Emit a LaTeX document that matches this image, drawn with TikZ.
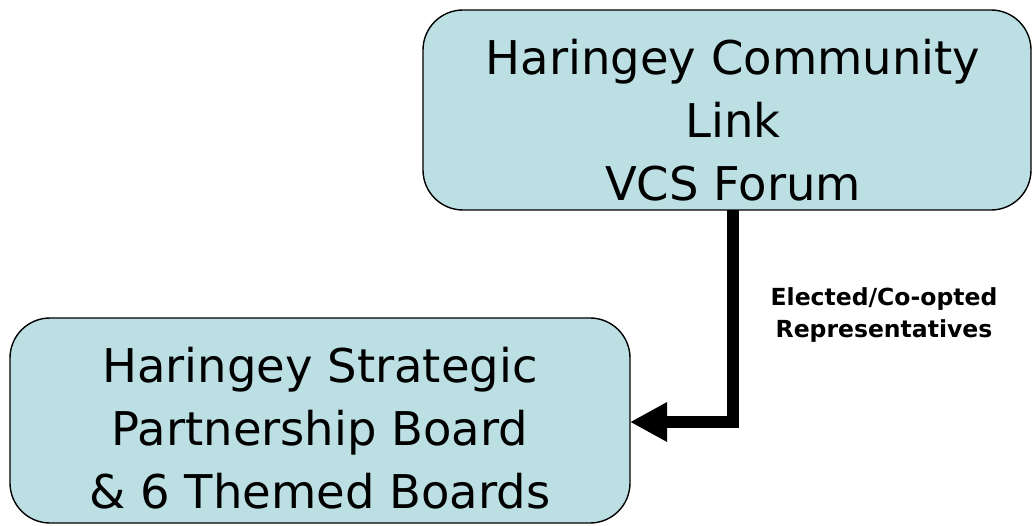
\documentclass[tikz,border=0pt]{standalone}
\usepackage{fontspec}
\setmainfont{DejaVu Sans}
\usetikzlibrary{arrows.meta}
\definecolor{boxfill}{RGB}{187,223,227}
\tikzset{
  box/.style={draw=black, line width=1.4pt, fill=boxfill, rounded corners=40pt},
  boxtext/.style={align=center, font=\fontsize{46.5}{63}\selectfont, inner sep=0pt},
  link/.style={line width=12pt, -{Triangle[length=37pt,width=37pt]}},
  lbl/.style={align=center, font=\bfseries\fontsize{23.5}{32}\selectfont, inner sep=0pt}
}
\begin{document}
\begin{tikzpicture}[x=1pt,y=1pt]
\useasboundingbox (0,0) rectangle (1033,525);
\draw[box] (423,315) rectangle (1031,515);
\node[boxtext] (top) at (733,405) {Haringey Community\\Link\\VCS Forum};
\draw[box] (10,2) rectangle (630,207);
\node[boxtext] (bot) at (320,97) {Haringey Strategic\\Partnership Board\\\& 6 Themed Boards};
\coordinate (s) at (733,315);
\coordinate (c) at (733,103);
\coordinate (e) at (630,103);
\draw[link] (s) -- (c) -- (e);
\node[lbl] (l) at (884,210) {Elected/Co-opted\\Representatives};
\end{tikzpicture}
\end{document}
